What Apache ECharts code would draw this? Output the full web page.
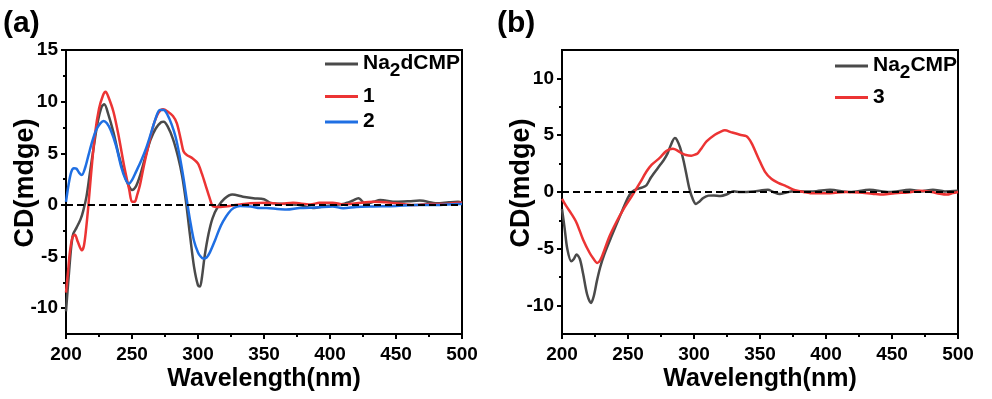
<!DOCTYPE html>
<html>
<head>
<meta charset="utf-8">
<script src="https://cdn.jsdelivr.net/npm/echarts@6/dist/echarts.min.js"></script>
<style>html,body{margin:0;padding:0;background:#fff}#c{width:992px;height:399px}</style>
</head>
<body>
<div id="c"></div>
<script>
// ---------- Data ----------
// Panel (a)
const aGrayWl = [200,202,204,205.5,208,211,213,215.5,218,221,224,227,229,232,236,240,244,247,250,253,256,260,264,268,272,274,277,281,285,288,291,294,297,300,301.5,303,305,308,311,315,320,326,334,342,350,355,365,377,387,397,410,417,421.5,427,433,438,450,460,468,481,490,497,500];
const aGrayCD = [-10.3,-7,-4,-2.8,-2.2,-1.4,-0.6,0.8,3.0,5.6,8.0,9.5,9.75,8.8,7.0,4.8,3.0,2.0,1.45,1.8,2.8,4.6,6.3,7.4,8.0,8.05,7.6,6.4,4.6,2.8,0.2,-3.0,-6.0,-7.8,-7.9,-7.0,-5.0,-2.8,-1.3,-0.2,0.6,1.0,0.8,0.65,0.55,0.2,0.1,0,-0.3,-0.1,0.1,0.4,0.65,0.1,0.3,0.48,0.3,0.35,0.42,0.16,0.25,0.3,0.2];

const aRedWl = [200,201.5,203,205,206.8,209,212,213.5,215,217,219,222,225,228,230,232,236,240,244,248,250,252,254,256,259,262,266,270,273.5,277,281,284,287,289,291.5,296,300,303,306,309,311.5,316,324,332,339.5,352,362,372,385,392,402,410,420,433,450,463,476,488,497,500];
const aRedCD = [-8.5,-6.5,-4.5,-3.1,-2.9,-3.6,-4.4,-4.0,-2.6,0,3.0,6.9,9.3,10.6,10.95,10.5,9.0,6.6,3.8,1.4,0.3,0.3,1.0,1.9,3.8,5.5,7.6,8.9,9.26,9.05,8.6,7.9,6.3,5.2,4.84,4.5,4.0,3.0,1.8,0.6,-0.15,-0.2,-0.1,0.05,0.16,0.22,0.1,0.2,0.05,0.2,0.22,0.05,0.16,0.3,0.16,0,0.1,0.1,0.22,0.2];

const aBlueWl = [200,202,204,206,208,210,212,214.5,217,220,223,226,228.5,231,234,238,242,245,247.5,250,253,257,261,265,268,271,274,277,280,283,286,289,291.5,294,297,300,302,304,306.5,309,313,316,319,323,327,332,340,347,352,360,367,377,390,402,410,420,433,450,465,480,497,500];
const aBlueCD = [0.3,2.0,3.2,3.55,3.5,3.1,2.9,3.6,4.8,6.2,7.3,7.9,8.13,7.9,7.2,5.7,3.6,2.5,2.05,2.4,3.2,4.3,5.6,7.2,8.4,9.2,9.2,8.7,7.8,6.6,4.8,2.6,0.5,-1.5,-3.5,-4.6,-5.0,-5.2,-5.1,-4.6,-3.4,-2.4,-1.6,-0.8,-0.3,-0.1,-0.15,-0.3,-0.3,-0.4,-0.45,-0.3,-0.25,-0.16,-0.32,-0.2,-0.15,-0.1,0,0,0.1,0.1];

// Panel (b)
const bGrayWl = [200,202,204,207,209,211,213.5,216,219,222,224,226.5,229,232,237.5,244,250,253,256.5,261,264,267.5,272.5,277,280,282,285.5,287,289.5,292,294,296.5,299,301.5,304,307,311,315,320,325,330,335,345,356,360,365,370,375,390,403,418,433,448,463.7,472,481,490,500];
const bGrayCD = [-1.5,-3.2,-5.0,-6.1,-5.9,-5.5,-5.9,-7.2,-9.0,-9.77,-9.2,-7.8,-6.6,-5.5,-3.9,-2.1,-0.5,0,0.25,0.4,0.6,1.3,2.1,2.8,3.4,4.0,4.75,4.6,3.9,2.8,1.7,0.3,-0.6,-1.05,-0.85,-0.53,-0.32,-0.3,-0.35,-0.2,0.06,0,0.05,0.2,0,-0.18,-0.05,0.06,0.05,0.2,0,0.2,0,0.2,0.05,0.2,0.05,0.1];

const bRedWl = [200,203,207,211,216,221,224,226.7,229,231.3,236,241.4,246.4,252.8,259,264,268,274,279,284,290.5,294,298,301,303,306,309.5,315.8,320,323.4,328.5,334.8,339.8,343.6,348.7,353.7,358.8,363.8,370,376.5,383,388,395,403,415,425,435,443.5,452,462,471,480,486,491.5,496,500];
const bRedCD = [-0.6,-1.2,-1.9,-2.7,-4.2,-5.37,-5.9,-6.25,-6.0,-5.37,-3.9,-2.6,-1.55,-0.38,0.8,1.8,2.4,3.0,3.6,3.8,3.43,3.25,3.2,3.3,3.43,3.9,4.46,5.04,5.3,5.43,5.25,5.04,4.9,4.3,3.0,1.8,1.14,0.8,0.5,0.15,0,-0.1,-0.1,-0.1,0,-0.05,-0.15,-0.23,-0.1,-0.05,0.1,0,-0.15,-0.23,-0.1,0];

const zeroWl = [200, 500];
const zeroCD = [0, 0];

// Axis ticks / labels
const xTicks = [200, 250, 300, 350, 400, 450, 500];
const aYMajor = [-10, -5, 0, 5, 10, 15];
const aYMinor = [-7.5, -2.5, 2.5, 7.5, 12.5];
const bYMajor = [-10, -5, 0, 5, 10];
const bYMinor = [-7.5, -2.5, 2.5, 7.5];

const names = { a: ['Na2dCMP', '1', '2'], b: ['Na2CMP', '3'] };

// ---------- Helpers ----------
const pair = (xs, ys) => xs.map((x, i) => [x, ys[i]]);
const FONT = 'Liberation Sans';
const GRAY = '#4a4a4a', RED = '#ec3434', BLUE = '#1f6fe3';

function xAxisDef(gi) {
  return {
    gridIndex: gi, type: 'value', min: xTicks[0], max: xTicks[xTicks.length - 1], interval: 50,
    axisLine: { show: true, onZero: false, lineStyle: { color: '#000', width: 2 } },
    axisTick: { show: true, length: 5, lineStyle: { color: '#000', width: 2 } },
    minorTick: { show: true, splitNumber: 2, length: 3, lineStyle: { color: '#000', width: 2 } },
    splitLine: { show: false },
    axisLabel: { fontFamily: FONT, fontSize: 19, fontWeight: 'bold', color: '#000', margin: 11 },
    name: 'Wavelength(nm)', nameLocation: 'middle', nameGap: 33, nameMoveOverlap: false,
    nameTextStyle: { fontFamily: FONT, fontSize: 25, fontWeight: 'bold', color: '#000' }
  };
}
function yMajor(gi, min, max, vals) {
  return {
    gridIndex: gi, type: 'value', min: min, max: max, position: 'left',
    axisLine: { show: true, onZero: false, lineStyle: { color: '#000', width: 2 } },
    axisTick: { show: true, length: 5, customValues: vals, lineStyle: { color: '#000', width: 2 } },
    axisLabel: { customValues: vals, fontFamily: FONT, fontSize: 19, fontWeight: 'bold', color: '#000', margin: 8 },
    splitLine: { show: false },
    name: 'CD(mdge)', nameLocation: 'middle', nameGap: 27, nameRotate: 90, nameMoveOverlap: false,
    nameTextStyle: { fontFamily: FONT, fontSize: 27, fontWeight: 'bold', color: '#000', padding: [0, 0, 0, 18] }
  };
}
function yMinor(gi, min, max, vals) {
  return {
    gridIndex: gi, type: 'value', min: min, max: max, position: 'left', offset: 0,
    axisLine: { show: false, onZero: false },
    axisTick: { show: true, length: 3, customValues: vals, lineStyle: { color: '#000', width: 2 } },
    axisLabel: { show: false }, splitLine: { show: false }
  };
}
function lineSeries(name, xi, yi, data, color) {
  return {
    name: name, type: 'line', xAxisIndex: xi, yAxisIndex: yi, data: data,
    showSymbol: false, symbol: 'none', smooth: 0.3, z: 3,
    lineStyle: { color: color, width: 2.5 }, itemStyle: { color: color }
  };
}
function zeroSeries(xi, yi) {
  return {
    type: 'line', xAxisIndex: xi, yAxisIndex: yi, data: pair(zeroWl, zeroCD),
    showSymbol: false, symbol: 'none', z: 5, silent: true,
    lineStyle: { color: '#000', width: 2, type: [7, 4] }
  };
}
const rich = {
  n: { fontFamily: FONT, fontSize: 21, fontWeight: 'bold', color: '#000', lineHeight: 22, verticalAlign: 'top' },
  s: { fontFamily: FONT, fontSize: 19, fontWeight: 'bold', color: '#000', lineHeight: 22, padding: [8, 0, 0, 0], verticalAlign: 'top' }
};
function fmt(name) {
  const m = name.match(/^Na2(.*)$/);
  return m ? '{n|Na}{s|2}{n|' + m[1] + '}' : '{n|' + name + '}';
}
function legendDef(name, left, top) {
  return {
    data: [name], left: left, top: top, padding: 0, icon: 'rect', itemWidth: 33, itemHeight: 3,
    selectedMode: false, formatter: fmt,
    textStyle: { fontFamily: FONT, fontSize: 21, fontWeight: 'bold', color: '#000', rich: rich }
  };
}

// ---------- Chart ----------
const chart = echarts.init(document.getElementById('c'), null, { renderer: 'canvas' });
chart.setOption({
  animation: false,
  backgroundColor: '#fff',
  textStyle: { fontFamily: FONT },
  grid: [
    { left: 66, top: 50, width: 396, height: 284, show: true, borderColor: '#000', borderWidth: 2, backgroundColor: 'transparent', containLabel: false },
    { left: 562, top: 50, width: 396, height: 284, show: true, borderColor: '#000', borderWidth: 2, backgroundColor: 'transparent', containLabel: false }
  ],
  xAxis: [xAxisDef(0), xAxisDef(1)],
  yAxis: [
    yMajor(0, -12.5, 15, aYMajor), yMinor(0, -12.5, 15, aYMinor),
    yMajor(1, -12.5, 12.5, bYMajor), yMinor(1, -12.5, 12.5, bYMinor)
  ],
  legend: [
    legendDef(names.a[0], 325, 53),
    legendDef(names.a[1], 325, 85.5),
    legendDef(names.a[2], 325, 111),
    legendDef(names.b[0], 835, 55),
    legendDef(names.b[1], 835, 86.5)
  ],
  graphic: [
    { type: 'text', left: 3, top: 9, style: { text: '(a)', font: 'bold 30px "Liberation Sans"', fill: '#000' } },
    { type: 'text', left: 497, top: 9, style: { text: '(b)', font: 'bold 30px "Liberation Sans"', fill: '#000' } }
  ],
  series: [
    lineSeries(names.a[0], 0, 0, pair(aGrayWl, aGrayCD), GRAY),
    lineSeries(names.a[1], 0, 0, pair(aRedWl, aRedCD), RED),
    lineSeries(names.a[2], 0, 0, pair(aBlueWl, aBlueCD), BLUE),
    zeroSeries(0, 0),
    lineSeries(names.b[0], 1, 2, pair(bGrayWl, bGrayCD), GRAY),
    lineSeries(names.b[1], 1, 2, pair(bRedWl, bRedCD), RED),
    zeroSeries(1, 2)
  ]
});
</script>
</body>
</html>
